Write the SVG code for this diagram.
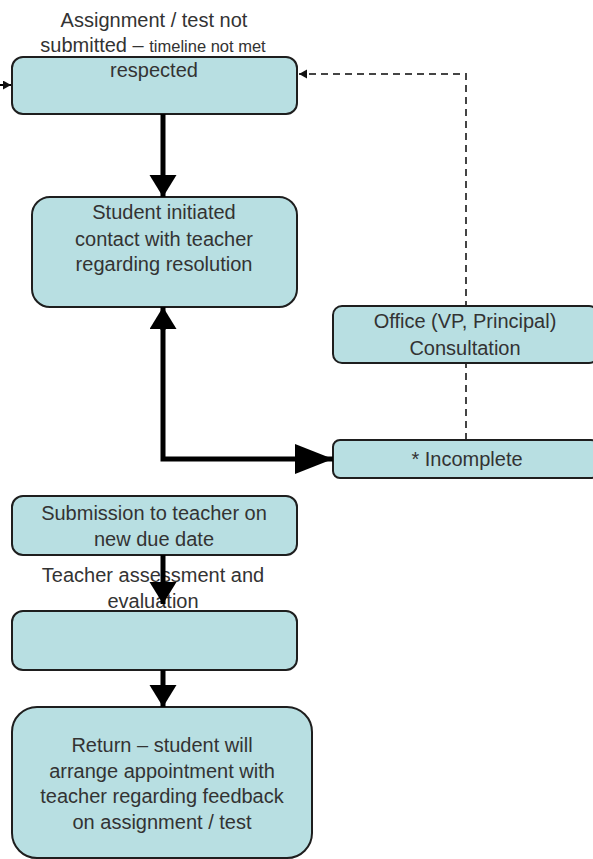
<svg xmlns="http://www.w3.org/2000/svg" width="593" height="859" viewBox="0 0 593 859">
<defs>
<style>
.box{fill:#b8dfe2;stroke:#1e1e1e;stroke-width:2}
.t{font-family:"Liberation Sans",Arial,sans-serif;font-size:20px;fill:#333;text-anchor:middle}
.s{font-size:16.5px}
.thick{fill:none;stroke:#000;stroke-width:5}
.dash{fill:none;stroke:#444;stroke-width:2;stroke-dasharray:7,5}
</style>
<marker id="big" markerUnits="userSpaceOnUse" markerWidth="26" markerHeight="28" refX="22" refY="13.5" orient="auto">
<path d="M0,0 L22,13.5 L0,27 z" fill="#000"/>
</marker>
<marker id="huge" markerUnits="userSpaceOnUse" markerWidth="40" markerHeight="32" refX="38" refY="15" orient="auto">
<path d="M0,0 L38,15 L0,30 z" fill="#000"/>
</marker>
<marker id="small" markerUnits="userSpaceOnUse" markerWidth="10" markerHeight="10" refX="8" refY="4.5" orient="auto">
<path d="M0,0 L8,4.5 L0,9 z" fill="#111"/>
</marker>
</defs>
<g id="connectors">
<path class="dash" d="M466,440 V74 H299" marker-end="url(#small)"/>
<path class="thick" d="M-10,85 H11" style="stroke-width:2" marker-end="url(#small)"/>
</g>
<g id="n1">
<rect class="box" x="12" y="57" width="285" height="57" rx="11"/>
<text class="t" x="154" y="27">Assignment / test not</text>
<text class="t" x="153" y="52">submitted – <tspan class="s">timeline not met</tspan></text>
<text class="t" x="154" y="77">respected</text>
</g>
<g id="n2">
<rect class="box" x="32" y="197" width="265" height="110" rx="18"/>
<text class="t" x="164" y="219">Student initiated</text>
<text class="t" x="164" y="246">contact with teacher</text>
<text class="t" x="164" y="271">regarding resolution</text>
</g>
<g id="n3">
<rect class="box" x="333" y="306" width="265" height="57" rx="9"/>
<text class="t" x="465" y="328">Office (VP, Principal)</text>
<text class="t" x="465" y="355">Consultation</text>
</g>
<g id="n4">
<rect class="box" x="333" y="440" width="265" height="38" rx="7"/>
<text class="t" x="467" y="466">* Incomplete</text>
</g>
<g id="n5">
<rect class="box" x="12" y="496" width="285" height="59" rx="11"/>
<text class="t" x="154" y="520">Submission to teacher on</text>
<text class="t" x="154" y="546">new due date</text>
</g>
<g id="n6">
<rect class="box" x="12" y="611" width="285" height="59" rx="11"/>
<text class="t" x="153" y="582">Teacher assessment and</text>
<text class="t" x="153" y="608">evaluation</text>
</g>
<g id="n7">
<rect class="box" x="12" y="707" width="300" height="151" rx="25"/>
<text class="t" x="162" y="752">Return – student will</text>
<text class="t" x="162" y="778">arrange appointment with</text>
<text class="t" x="162" y="803">teacher regarding feedback</text>
<text class="t" x="162" y="829">on assignment / test</text>
</g>
<g id="main-connectors">
<path class="thick" d="M163,114 V197" marker-end="url(#big)"/>
<path class="thick" d="M163,330 V307" marker-end="url(#big)"/>
<path class="thick" d="M163,328 V459 H333" marker-end="url(#huge)"/>
<path class="thick" d="M163,555 V604" marker-end="url(#big)"/>
<path class="thick" d="M163,670 V707" marker-end="url(#big)"/>
</g>
</svg>
